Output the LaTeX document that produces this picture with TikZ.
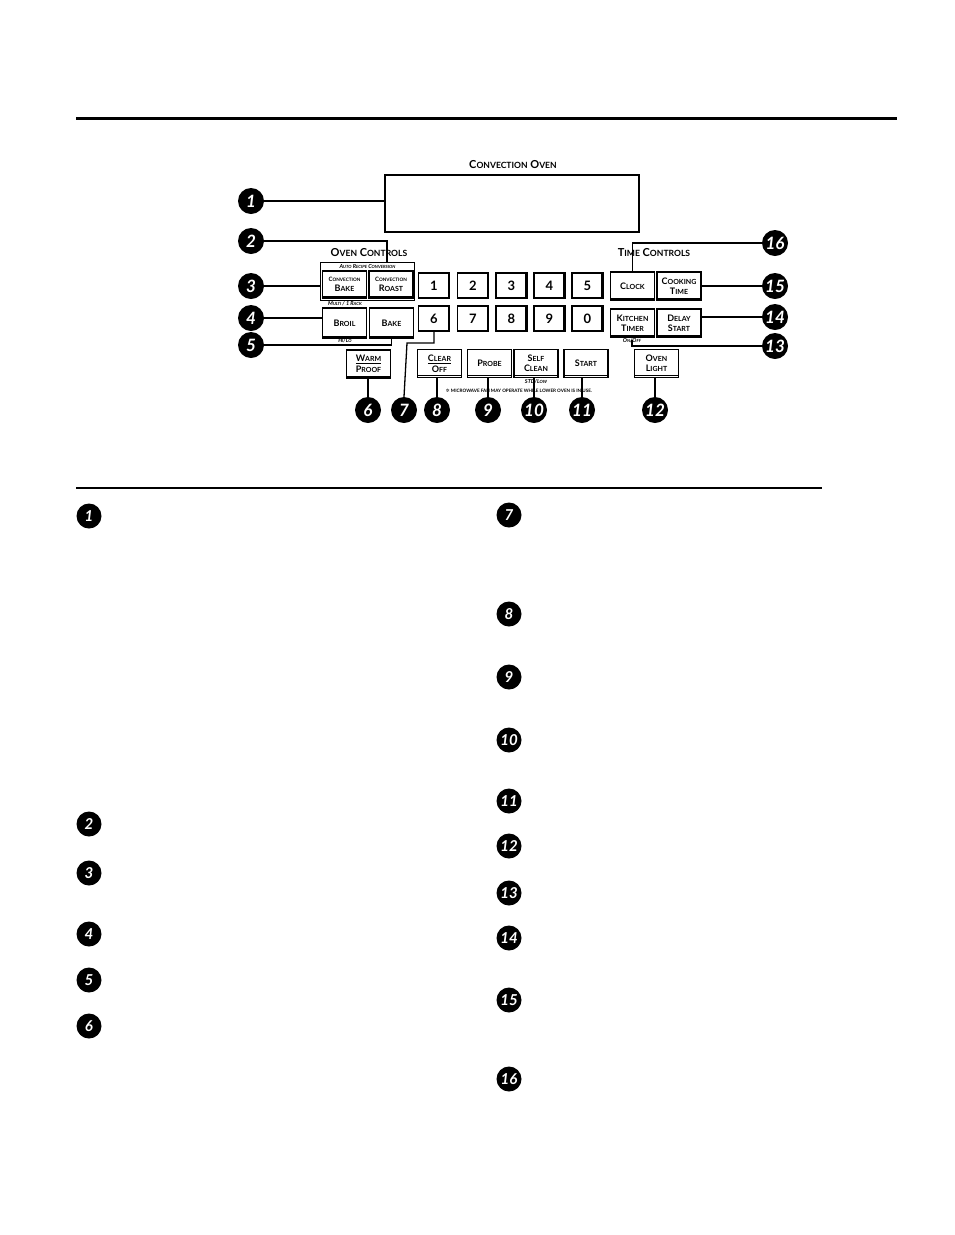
\documentclass[tikz,border=0pt]{standalone}
\usepackage{fontspec}
\setmainfont{Lato}
\newfontfamily\djv{DejaVu Sans}
\makeatletter
\newcommand\lc[1]{{\edef\tmpsz{\strip@pt\dimexpr0.78\dimexpr\f@size pt\relax\relax}\fontsize{\tmpsz}{\tmpsz}\selectfont #1}}
\makeatother
\begin{document}
\begin{tikzpicture}[x=1pt,y=-1pt,
  badge/.style={circle,fill=black,text=white,minimum size=26pt,inner sep=0pt,font=\fontsize{17}{17}\selectfont\bfseries\itshape},
  lbadge/.style={badge,minimum size=25pt,font=\fontsize{15}{15}\selectfont\bfseries\itshape},
  conn/.style={line width=1.3pt},
  btn/.style={draw,line width=1.7pt,fill=white,inner sep=0pt,align=center,minimum width=44pt,minimum height=28pt,font=\fontsize{9}{9}\selectfont\bfseries},
  keyb/.style={draw,line width=1.7pt,fill=white,inner sep=0pt,minimum width=31pt,minimum height=25pt,font=\fontsize{13}{13}\selectfont\bfseries},
  lbl/.style={inner sep=0pt,font=\fontsize{11}{11}\selectfont\bfseries},
  tiny/.style={inner sep=0pt,font=\fontsize{5.5}{6}\selectfont\bfseries\itshape},
  rule/.style={line width=3pt}
]
\useasboundingbox (0,0) rectangle (954,1235);
\draw[rule] (76,118) -- (897,118);
\draw[line width=1.6pt] (76,488) -- (822,488);

% display
\node[lbl] (tdisp) at (513,165) {C\lc{ONVECTION} O\lc{VEN}};
\node[draw,line width=1.8pt,minimum width=254pt,minimum height=57pt,inner sep=0pt] (disp) at (512,203.5) {};

% oven controls
\node[lbl] (toc) at (369,253) {O\lc{VEN} C\lc{ONTROLS}};
\node[draw,line width=0.8pt,minimum width=94pt,minimum height=38pt,inner sep=0pt] (arc) at (367.5,281) {};
\node[tiny] (tarc) at (367.5,266.5) {A\lc{UTO} R\lc{ECIPE} C\lc{ONVERSION}};
\node[btn,minimum height=27pt] (cb) at (344.5,284.5) {{\fontsize{6}{7}\selectfont C\lc{ONVECTION}}\\[1pt]B\lc{AKE}};
\node[btn,minimum height=27pt] (cr) at (391,284.5) {{\fontsize{6}{7}\selectfont C\lc{ONVECTION}}\\[1pt]R\lc{OAST}};
\node[tiny] (tmr) at (345,304) {M\lc{ULTI} / 1 R\lc{ACK}};
\node[btn,minimum height=30pt] (br) at (344.5,323) {B\lc{ROIL}};
\node[btn,minimum height=30pt] (bk) at (391.5,323) {B\lc{AKE}};
\node[tiny] (thl) at (345,341) {H\lc{I}/L\lc{O}};

% keys
\foreach \k/\x in {1/434,2/473,3/511.5,4/549.5,5/587.5}{
  \node[keyb] (k\k) at (\x,285.5) {\k};
  \draw[line width=0.6pt] ([shift={(-2.5pt,-1pt)}]k\k.north east) -- ([shift={(-2.5pt,1pt)}]k\k.south east);
}
\foreach \k/\x in {6/434,7/473,8/511.5,9/549.5,0/587.5}{
  \node[keyb] (k\k) at (\x,318.5) {\k};
  \draw[line width=0.6pt] ([shift={(-2.5pt,-1pt)}]k\k.north east) -- ([shift={(-2.5pt,1pt)}]k\k.south east);
}

% bottom row
\node[btn] (wp) at (368.5,364) {\underline{W\lc{ARM}}\\[2pt]P\lc{ROOF}};
\node[btn] (co) at (439.5,363.5) {\underline{C\lc{LEAR}}\\[2pt]O\lc{FF}};
\node[btn] (pr) at (489.5,363.5) {P\lc{ROBE}};
\node[btn] (sc) at (536,363.5) {S\lc{ELF}\\[1pt]C\lc{LEAN}};
\node[btn] (st) at (586,363.5) {S\lc{TART}};
\node[tiny] (tstd) at (536,382) {STD/L\lc{OW}};
\node[inner sep=0pt,font=\fontsize{4.6}{5}\selectfont\bfseries] (note) at (519,390.5) {{\djv ✲} MICROWAVE FAN MAY OPERATE WHILE LOWER OVEN IS IN USE.};

% time controls
\node[lbl] (ttc) at (654,253) {T\lc{IME} C\lc{ONTROLS}};
\node[btn] (ck) at (632.5,286) {C\lc{LOCK}};
\node[btn] (ct) at (679,286) {C\lc{OOKING}\\[1pt]T\lc{IME}};
\node[btn] (kt) at (632.5,323) {K\lc{ITCHEN}\\[1pt]T\lc{IMER}};
\node[btn] (ds) at (679,323) {D\lc{ELAY}\\[1pt]S\lc{TART}};
\node[tiny] (tonoff) at (632,341) {O\lc{N}/O\lc{FF}};
\node[btn] (ol) at (656.5,363.5) {O\lc{VEN}\\[1pt]L\lc{IGHT}};

\foreach \n in {cb,cr,br,bk,wp,co,pr,sc,st,ck,ct,kt,ds,ol}
  \draw[line width=0.6pt] ([shift={(1pt,3pt)}]\n.south west) -- ([shift={(-1pt,3pt)}]\n.south east);

% badges (top)
\node[badge] (b1) at (251,201) {1};
\node[badge] (b2) at (251,241) {2};
\node[badge] (b3) at (251,286) {3};
\node[badge] (b4) at (251,318) {4};
\node[badge] (b5) at (251,345) {5};
\node[badge] (b6) at (368,410) {6};
\node[badge] (b7) at (404,410) {7};
\node[badge] (b8) at (437,410) {8};
\node[badge] (b9) at (488,410) {9};
\node[badge] (b10) at (534,410) {10};
\node[badge] (b11) at (582,410) {11};
\node[badge] (b12) at (655,410) {12};
\node[badge] (b13) at (775,346) {13};
\node[badge] (b14) at (775,317) {14};
\node[badge] (b15) at (775,286) {15};
\node[badge] (b16) at (775,243) {16};

\draw[conn] (b1.east) -- (b1.east -| disp.west);
\draw[conn] (b2.east) -| (387,262);
\draw[conn] (b3.east) -- (b3.east -| arc.west);
\draw[conn] (b4.east) -- (b4.east -| br.west);
\draw[conn] (b5.east) -| (bk.south);
\draw[conn] (b6.north) -- (b6.north |- wp.south);
\coordinate (c7) at (407,343);
\draw[conn] (b7.north) -- (c7) -| (k6.south);
\draw[conn] (b8.north) -- (b8.north |- co.south);
\draw[conn] (b9.north) -- (b9.north |- pr.south);
\draw[conn] (b10.north) -- (b10.north |- sc.south);
\draw[conn] (b11.north) -- (b11.north |- st.south);
\draw[conn] (b12.north) -- (b12.north |- ol.south);
\coordinate (c13) at (632,340);
\draw[conn] (b13.west) -| (c13);
\draw[conn] (b14.west) -- (b14.west -| ds.east);
\draw[conn] (b15.west) -- (b15.west -| ct.east);
\draw[conn] (b16.west) -| (ck.north);

% list badges
\foreach \n/\y in {1/516,2/824,3/873,4/934,5/980,6/1026}
  \node[lbadge] (l\n) at (89,\y) {\n};
\foreach \n/\y in {7/515,8/614,9/677,10/740,11/801,12/846,13/893,14/938,15/1000,16/1079}
  \node[lbadge] (l\n) at (509,\y) {\n};
\end{tikzpicture}
\end{document}
